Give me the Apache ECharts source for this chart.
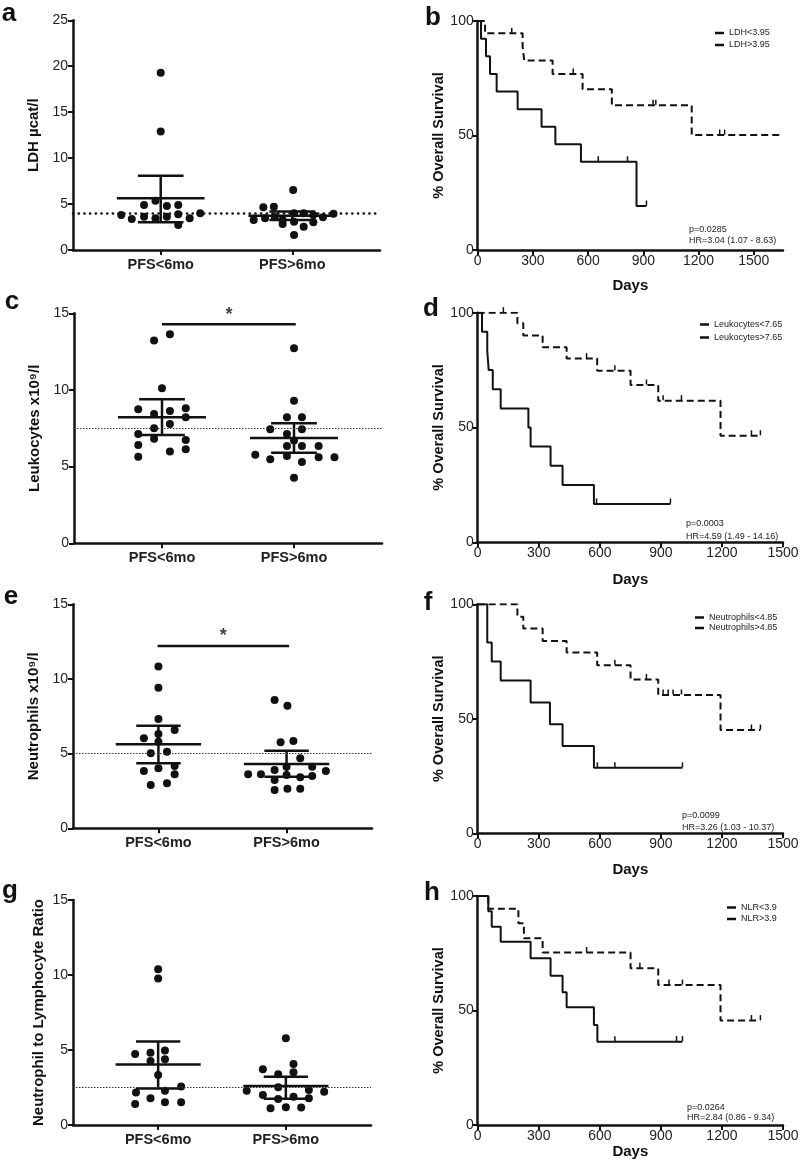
<!DOCTYPE html>
<html><head><meta charset="utf-8">
<script src="https://cdn.jsdelivr.net/npm/echarts@6/dist/echarts.min.js"></script>
<style>html,body{margin:0;padding:0;background:#fff}#c{width:800px;height:1168px}</style>
</head><body><div id="c"></div>
<script>
// ================= DATA =================
const groupNames = ['PFS<6mo', 'PFS>6mo'];
const groupPos = [1, 2.5];

// dot plots: [horizontal jitter offset, value]
const ldhShort = [[0,19.3],[0,12.9],[-0.06,5.37],[-0.19,4.90],[0.07,4.79],[0.20,4.90],[-0.45,3.81],[-0.33,3.37],[-0.19,3.63],[-0.06,3.45],[0.07,3.63],[0.20,3.88],[0.33,3.45],[0.45,3.99],[0.20,2.72]];
const ldhLong  = [[0.01,6.53],[-0.33,4.64],[-0.21,4.72],[-0.44,3.26],[-0.31,3.45],[-0.20,3.59],[-0.11,3.26],[0.02,3.99],[0.13,3.99],[0.24,3.81],[0.35,3.56],[0.47,3.95],[-0.11,2.83],[0.02,3.08],[0.13,2.54],[0.24,3.01],[0.02,1.63]];
const leuShort = [[-0.09,13.22],[0.09,13.63],[0,10.11],[-0.27,8.74],[-0.09,8.43],[0.09,8.63],[0.27,8.80],[0.27,8.22],[0.09,7.78],[-0.09,7.50],[-0.27,7.13],[-0.09,6.82],[0.27,6.74],[-0.27,6.41],[0.09,5.98],[0.27,6.13],[-0.27,5.65]];
const leuLong  = [[0,12.72],[0,9.30],[-0.08,8.22],[0.09,8.22],[-0.27,7.43],[0.09,7.43],[-0.08,7.13],[0,6.70],[-0.08,6.35],[0.09,6.35],[0.28,6.35],[-0.44,5.78],[-0.27,5.48],[-0.08,5.70],[0.09,5.30],[0.28,5.61],[0.46,5.61],[0,4.28]];
const neuShort = [[0,10.83],[0,9.42],[0,7.32],[0.19,6.58],[0,6.32],[-0.17,6.03],[0,5.80],[-0.09,5.02],[0.10,5.13],[-0.17,3.84],[0,4.02],[0.19,4.17],[0.19,3.62],[-0.09,2.90],[0.10,3.01]];
const neuLong  = [[-0.14,8.59],[0.01,8.21],[-0.07,5.76],[0.08,5.85],[0.16,4.69],[0,4.13],[-0.45,3.62],[-0.30,3.62],[-0.14,3.90],[0.30,4.13],[0.46,3.84],[-0.14,3.24],[0,3.57],[0.16,3.42],[0.30,3.50],[-0.14,2.57],[0.01,2.65],[0.16,2.65]];
const nlrShort = [[0,10.38],[0,9.76],[-0.27,4.73],[-0.09,4.82],[0.08,4.96],[-0.09,4.27],[0.08,4.38],[0,3.33],[-0.26,2.16],[0.08,2.29],[0.27,2.56],[-0.09,1.78],[-0.27,1.40],[0.08,1.51],[0.27,1.51]];
const nlrLong  = [[0,5.78],[-0.27,3.71],[0.09,4.07],[0.09,3.51],[-0.09,3.38],[-0.46,2.29],[-0.09,2.51],[0.27,2.33],[0.45,2.22],[-0.27,2.00],[-0.09,1.73],[0.09,1.89],[0.27,1.78],[-0.18,1.11],[0,1.18],[0.18,1.16]];

// mean, lower, upper of the error bars per group
const ldhBars = [[5.62,3.01,8.09],[3.72,3.26,4.20]];
const leuBars = [[8.22,7.06,9.39],[6.87,5.91,7.83]];
const neuBars = [[5.63,4.35,6.87],[4.31,3.46,5.20]];
const nlrBars = [[4.04,2.44,5.56],[2.60,1.75,3.22]];

// cut-off lines
const ldhCut = 4.0, leuCut = 7.48, neuCut = 5.0, nlrCut = 2.49;
// significance bars [x1, x2, y]
const leuSig = [1, 2.52, 14.28];
const neuSig = [0.99, 2.53, 12.21];

// Kaplan-Meier curves: event times (days) and survival (%) after each time
const ldhLowT  = [0, 40, 244, 253, 407, 570, 729, 1163, 1655];
const ldhLowS  = [100, 94.6, 88.8, 82.7, 76.9, 70.2, 63.2, 50.2, 50.2];
const ldhLowC  = [185, 519, 953, 968, 1315, 1342];
const ldhHighT = [0, 18, 45, 67, 103, 217, 347, 422, 561, 863, 917];
const ldhHighS = [100, 92.3, 84.6, 76.9, 69.2, 61.5, 53.8, 46.2, 38.5, 19.2, 19.2];
const ldhHighC = [655, 814, 917];

const leuLowT  = [0, 195, 224, 319, 437, 587, 751, 887, 1193, 1389];
const leuLowS  = [100, 95.4, 90.1, 84.9, 80.0, 74.7, 68.5, 61.7, 46.4, 46.4];
const leuLowC  = [126, 535, 674, 829, 911, 1001, 1345, 1389];
const leuHighT = [0, 21, 47, 54, 74, 113, 249, 260, 358, 417, 571, 947];
const leuHighS = [100, 91.7, 83.3, 75.0, 66.7, 58.3, 50.0, 41.7, 33.3, 25.0, 16.7, 16.7];
const leuHighC = [584, 947];

const neuLowT  = [0, 195, 224, 319, 437, 587, 751, 887, 1193, 1389];
const neuLowS  = [100, 94.6, 89.4, 84.0, 78.9, 73.4, 67.2, 60.4, 45.1, 45.1];
const neuLowC  = [674, 829, 911, 936, 960, 1001, 1345, 1389];
const neuHighT = [0, 47, 69, 113, 260, 355, 417, 571, 1006];
const neuHighS = [100, 83.3, 75.0, 66.7, 57.1, 47.6, 38.1, 28.6, 28.6];
const neuHighC = [588, 674, 1006];

const nlrLowT  = [0, 52, 200, 227, 319, 751, 887, 1193, 1389];
const nlrLowS  = [100, 94.4, 88.1, 81.5, 75.3, 68.4, 61.1, 45.6, 45.6];
const nlrLowC  = [535, 797, 940, 1006, 1345, 1389];
const nlrHighT = [0, 52, 69, 113, 260, 358, 417, 437, 571, 588, 1006];
const nlrHighS = [100, 93.3, 86.6, 80.0, 72.8, 65.2, 58.0, 51.4, 43.7, 36.4, 36.4];
const nlrHighC = [674, 977, 1006];

const dayTicks = [0, 300, 600, 900, 1200, 1500];

// ================= LAYOUT / STYLE =================
const FONT = '"Liberation Sans", Arial, Helvetica, sans-serif';
const INK = '#111';
const LBL = '#222';
const MEAN_HALF = 0.5, CAP_HALF = 0.26;

const chart = echarts.init(document.getElementById('c'), null, {renderer: 'canvas'});

const grid = [], xAxis = [], yAxis = [], series = [], legend = [], graphic = [];

function addGrid(l, t, w, h) {
  grid.push({left: l, top: t, width: w, height: h, containLabel: false, outerBoundsMode: 'none'});
  return grid.length - 1;
}
function axisCommon() {
  return {
    axisLine: {show: true, onZero: false, lineStyle: {color: INK, width: 2.5}},
    axisTick: {show: true, length: 5, lineStyle: {color: INK, width: 2}},
    splitLine: {show: false},
  };
}
const plain = v => String(v);

function dotPanel(box, ymax, yname, nameGap, shortPts, longPts, bars, cut, cutStyle, sig) {
  const gi = addGrid(...box);
  xAxis.push(Object.assign(axisCommon(), {
    type: 'value', gridIndex: gi, min: 0, max: 3.5,
    axisTick: {show: true, length: 5, lineStyle: {color: INK, width: 2}, customValues: groupPos},
    axisLabel: {show: true, customValues: groupPos, margin: 7,
      formatter: v => groupNames[groupPos.indexOf(v)] || '',
      fontFamily: FONT, fontSize: 14.5, fontWeight: 'bold', color: LBL},
  }));
  yAxis.push(Object.assign(axisCommon(), {
    type: 'value', gridIndex: gi, min: 0, max: ymax, interval: 5,
    name: yname, nameLocation: 'middle', nameGap: nameGap,
    nameTextStyle: {fontFamily: FONT, fontSize: 15, fontWeight: 'bold', color: INK},
    axisLabel: {margin: 5, fontFamily: FONT, fontSize: 14, color: LBL, formatter: plain},
  }));
  const pts = shortPts.map(p => [groupPos[0] + p[0], p[1]])
    .concat(longPts.map(p => [groupPos[1] + p[0], p[1]]));
  series.push({
    type: 'scatter', xAxisIndex: gi, yAxisIndex: gi, data: pts,
    symbol: 'circle', symbolSize: 8, itemStyle: {color: INK, opacity: 1}, silent: true,
    markLine: {silent: true, symbol: ['none', 'none'], label: {show: false},
      lineStyle: cutStyle, data: [{yAxis: cut}]},
    z: 3,
  });
  series.push({
    type: 'custom', xAxisIndex: gi, yAxisIndex: gi, silent: true, z: 4,
    data: bars.map((b, k) => [groupPos[k], b[0], b[1], b[2]]),
    encode: {x: 0, y: [1, 2, 3]},
    renderItem(params, api) {
      const x = api.value(0), m = api.value(1), lo = api.value(2), hi = api.value(3);
      const c = (a, b) => api.coord([a, b]);
      const seg = (p, q) => ({type: 'line', shape: {x1: p[0], y1: p[1], x2: q[0], y2: q[1]},
        style: {stroke: INK, lineWidth: 2.5}});
      return {type: 'group', children: [
        seg(c(x - MEAN_HALF, m), c(x + MEAN_HALF, m)),
        seg(c(x, lo), c(x, hi)),
        seg(c(x - CAP_HALF, lo), c(x + CAP_HALF, lo)),
        seg(c(x - CAP_HALF, hi), c(x + CAP_HALF, hi)),
      ]};
    },
  });
  if (sig) {
    series.push({
      type: 'line', xAxisIndex: gi, yAxisIndex: gi, silent: true,
      data: [[sig[0], sig[2]], [sig[1], sig[2]]], symbol: 'none',
      lineStyle: {color: INK, width: 2.5},
    });
    series.push({
      type: 'scatter', xAxisIndex: gi, yAxisIndex: gi, silent: true,
      data: [[(sig[0] + sig[1]) / 2, sig[2]]], symbolSize: 1, itemStyle: {color: 'rgba(0,0,0,0)'},
      label: {show: true, position: 'top', distance: 0, formatter: '*',
        fontFamily: FONT, fontSize: 18, fontWeight: 'bold', color: INK},
    });
  }
}

function survAt(T, S, t) {
  let s = S[0];
  for (let i = 0; i < T.length; i++) if (T[i] <= t) s = S[i];
  return s;
}

function kmPanel(box, xmax, nameGapX, low, high, legPos, stats) {
  const gi = addGrid(...box);
  const xa = Object.assign(axisCommon(), {
    type: 'value', gridIndex: gi, min: 0, max: xmax,
    name: 'Days', nameLocation: 'middle', nameGap: nameGapX,
    nameTextStyle: {fontFamily: FONT, fontSize: 15, fontWeight: 'bold', color: INK},
    axisLabel: {margin: 4, fontFamily: FONT, fontSize: 14, color: LBL, formatter: plain},
  });
  if (xmax % 300 === 0) { xa.interval = 300; }
  else {
    xa.axisLabel.customValues = dayTicks;
    xa.axisTick.customValues = dayTicks;
  }
  xAxis.push(xa);
  yAxis.push(Object.assign(axisCommon(), {
    type: 'value', gridIndex: gi, min: 0, max: 100, interval: 50,
    name: '% Overall Survival', nameLocation: 'middle', nameGap: 31,
    nameTextStyle: {fontFamily: FONT, fontSize: 14.5, fontWeight: 'bold', color: INK},
    axisLabel: {margin: 4, fontFamily: FONT, fontSize: 14, color: LBL, formatter: plain},
  }));
  const curves = [[low, [7, 4]], [high, 'solid']];
  curves.forEach(([cv, dash]) => {
    series.push({
      type: 'line', name: cv.name, xAxisIndex: gi, yAxisIndex: gi, silent: true,
      step: 'end', symbol: 'none', showSymbol: false,
      data: cv.T.map((t, i) => [t, cv.S[i]]),
      lineStyle: {color: INK, width: 2, type: dash}, itemStyle: {color: INK},
      z: 3,
    });
    series.push({
      type: 'scatter', xAxisIndex: gi, yAxisIndex: gi, silent: true,
      data: cv.C.map(t => [t, survAt(cv.T, cv.S, t)]),
      symbol: 'rect', symbolSize: [1.5, 5], symbolOffset: [0, -3],
      itemStyle: {color: INK, opacity: 1}, z: 4,
    });
  });
  legend.push({
    orient: 'vertical', left: legPos[0], top: legPos[1], itemGap: legPos[2],
    itemWidth: 9, itemHeight: 2.5, selectedMode: false, icon: 'rect',
    data: [low.name, high.name],
    textStyle: {fontFamily: FONT, fontSize: 9, color: LBL},
  });
  graphic.push({type: 'text', x: stats[0], y: stats[1], silent: true,
    style: {text: stats[3], font: '9px ' + FONT, fill: LBL, verticalAlign: 'middle'}});
  graphic.push({type: 'text', x: stats[0], y: stats[2], silent: true,
    style: {text: stats[4], font: '9px ' + FONT, fill: LBL, verticalAlign: 'middle'}});
}

function letter(ch, x, y) {
  graphic.push({type: 'text', x: x, y: y, silent: true,
    style: {text: ch, font: 'bold 26px ' + FONT, fill: INK, align: 'center', verticalAlign: 'middle'}});
}

const thinDot = {color: '#333', width: 1, type: [1.5, 1.5]};
const fatDot = {color: INK, width: 2.6, type: [0.1, 5.6], cap: 'round'};

// ---- panels ----
dotPanel([73, 20.3, 307, 229.7], 25, 'LDH µcat/l', 32, ldhShort, ldhLong, ldhBars, ldhCut, fatDot, null);
kmPanel([477.7, 21, 305.3, 229], 1659, 28,
  {name: 'LDH<3.95', T: ldhLowT, S: ldhLowS, C: ldhLowC},
  {name: 'LDH>3.95', T: ldhHighT, S: ldhHighS, C: ldhHighC},
  [710, 23.5, 3], [689, 230, 241, 'p=0.0285', 'HR=3.04 (1.07 - 8.63)']);

dotPanel([74, 313.3, 308, 230], 15, 'Leukocytes x10⁹/l', 32, leuShort, leuLong, leuBars, leuCut, thinDot, leuSig);
kmPanel([477.7, 312.7, 305.3, 229.6], 1500, 30,
  {name: 'Leukocytes<7.65', T: leuLowT, S: leuLowS, C: leuLowC},
  {name: 'Leukocytes>7.65', T: leuHighT, S: leuHighS, C: leuHighC},
  [695, 315, 4], [686, 524, 536.5, 'p=0.0003', 'HR=4.59 (1.49 - 14.16)']);

dotPanel([73, 604.3, 299, 224], 15, 'Neutrophils x10⁹/l', 32, neuShort, neuLong, neuBars, neuCut, thinDot, neuSig);
kmPanel([477.7, 604.3, 305.3, 229], 1500, 29.5,
  {name: 'Neutrophils<4.85', T: neuLowT, S: neuLowS, C: neuLowC},
  {name: 'Neutrophils>4.85', T: neuHighT, S: neuHighS, C: neuHighC},
  [690, 608, 1.5], [682, 816, 827.5, 'p=0.0099', 'HR=3.26 (1.03 - 10.37)']);

dotPanel([73, 900, 298, 225], 15, 'Neutrophil to Lymphocyte Ratio', 27, nlrShort, nlrLong, nlrBars, nlrCut, thinDot, null);
kmPanel([477.7, 896, 305.3, 229], 1500, 17,
  {name: 'NLR<3.9', T: nlrLowT, S: nlrLowS, C: nlrLowC},
  {name: 'NLR>3.9', T: nlrHighT, S: nlrHighS, C: nlrHighC},
  [722, 898, 2.5], [687, 1107.5, 1117.5, 'p=0.0264', 'HR=2.84 (0.86 - 9.34)']);

letter('a', 9, 14);
letter('b', 433, 18);
letter('c', 12, 302);
letter('d', 431, 309);
letter('e', 11, 597);
letter('f', 428, 603);
letter('g', 10, 891);
letter('h', 432, 893);

chart.setOption({
  animation: false,
  backgroundColor: '#fff',
  textStyle: {fontFamily: FONT},
  grid, xAxis, yAxis, series, legend, graphic,
});
</script>
</body></html>
